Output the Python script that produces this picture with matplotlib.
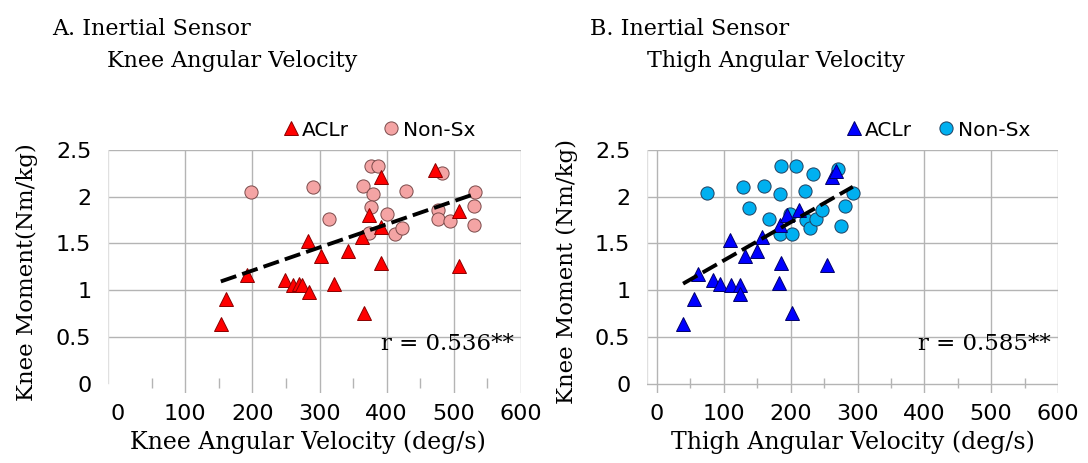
import matplotlib
matplotlib.use("Agg")
import matplotlib.pyplot as plt
import numpy as np

# ---- data ------------------------------------------------------------------
# Panel A: knee angular velocity (deg/s) vs knee moment (Nm/kg)
knee_aclr_x = [153, 160, 192, 248, 260, 269, 274, 284, 283, 302, 322, 342,
               363, 366, 373, 392, 392, 392, 472, 508, 508]
knee_aclr_y = [0.64, 0.91, 1.16, 1.11, 1.06, 1.07, 1.06, 0.98, 1.53, 1.37, 1.07, 1.42,
               1.57, 0.76, 1.80, 2.21, 1.68, 1.29, 2.29, 1.85, 1.26]
knee_nonsx_x = [198, 290, 314, 365, 376, 387, 380, 377, 373, 400, 412, 423,
                429, 482, 477, 477, 495, 532, 530, 530]
knee_nonsx_y = [2.05, 2.10, 1.76, 2.11, 2.33, 2.33, 2.03, 1.89, 1.61, 1.81, 1.60, 1.67,
                2.06, 2.25, 1.86, 1.76, 1.74, 2.05, 1.90, 1.70]
knee_r = "r = 0.536**"

# Panel B: thigh angular velocity (deg/s) vs knee moment (Nm/kg)
thigh_aclr_x = [39, 56, 61, 84, 94, 110, 109, 124, 124, 132, 150, 157,
                183, 185, 184, 202, 213, 254, 262, 268, 195]
thigh_aclr_y = [0.64, 0.91, 1.17, 1.11, 1.07, 1.06, 1.54, 1.06, 0.96, 1.37, 1.42, 1.57,
                1.08, 1.29, 1.70, 0.76, 1.86, 1.27, 2.21, 2.28, 1.80]
thigh_nonsx_x = [75, 129, 138, 160, 168, 184, 186, 208, 184, 199, 202, 222,
                 234, 223, 229, 238, 247, 271, 281, 275, 293]
thigh_nonsx_y = [2.04, 2.10, 1.88, 2.11, 1.76, 2.03, 2.33, 2.33, 1.60, 1.81, 1.60, 2.06,
                 2.24, 1.75, 1.67, 1.76, 1.86, 2.30, 1.90, 1.69, 2.04]
thigh_r = "r = 0.585**"

x_ticks = [0, 100, 200, 300, 400, 500, 600]
x_minor = [50, 150, 250, 350, 450, 550]
y_ticks = [0, 0.5, 1, 1.5, 2, 2.5]
y_tick_labels = ["0", "0.5", "1", "1.5", "2", "2.5"]

SERIF = "DejaVu Serif"
SANS = "DejaVu Sans"
GRID = "#b4b4b4"
W, H = 1088, 463


def draw_panel(ax, aclr_x, aclr_y, non_x, non_y, tri_color, tri_edge,
               circ_color, circ_edge, r_text, y_axis_line):
    ax.set_xlim(-15, 600)
    ax.set_ylim(-0.1, 2.5)
    for s in ax.spines.values():
        s.set_visible(False)
    for x in x_ticks[1:]:
        ax.axvline(x, color=GRID, lw=1, zorder=0)
    for y in y_ticks[1:]:
        ax.axhline(y, color=GRID, lw=1, zorder=0)
    ax.axvline(-15, ymin=0.04, color="#e0e0e0", lw=1, zorder=0)
    if y_axis_line:
        ax.axhline(0, color=GRID, lw=1, zorder=0)
        ax.axvline(0, color=GRID, lw=1, zorder=0)
    ax.vlines(x_minor, -0.05, 0.06, color=GRID, lw=1, zorder=0)

    ax.set_xticks(x_ticks)
    ax.set_yticks(y_ticks)
    ax.set_yticklabels(y_tick_labels)
    ax.tick_params(length=0, labelsize=16, pad=12)
    ax.tick_params(axis="x", pad=8)
    for lab in ax.get_xticklabels() + ax.get_yticklabels():
        lab.set_fontfamily(SANS)

    ax.plot(non_x, non_y, "o", ms=9.5, color=circ_color, mec=circ_edge,
            mew=0.7, label="Non-Sx", zorder=3)
    ax.plot(aclr_x, aclr_y, "^", ms=10.5, color=tri_color, mec=tri_edge,
            mew=0.7, label="ACLr", zorder=4)

    all_x = np.array(aclr_x + non_x, dtype=float)
    all_y = np.array(aclr_y + non_y, dtype=float)
    slope, icpt = np.polyfit(all_x, all_y, 1)
    xs = np.array([all_x.min(), all_x.max()])
    ax.plot(xs, slope * xs + icpt, color="black", lw=2.8, dashes=(4.2, 1.6),
            zorder=5)

    ax.text(0.66, 0.2, r_text, transform=ax.transAxes, family=SERIF,
            fontsize=16.5, va="center", ha="left", zorder=6)

    h, l = ax.get_legend_handles_labels()
    return [h[1], h[0]], [l[1], l[0]]


fig = plt.figure(figsize=(W / 100, H / 100), dpi=100)

ax_a = fig.add_axes([108 / W, 1 - 393 / H, 413 / W, 243 / H])
ax_b = fig.add_axes([647 / W, 1 - 393 / H, 411 / W, 243 / H])

h, l = draw_panel(ax_a, knee_aclr_x, knee_aclr_y, knee_nonsx_x, knee_nonsx_y,
                  "#ff0000", "#8a0000", "#f4a4a4", "#7a4a4a", knee_r, False)
fig.legend(h, l, loc="center", bbox_to_anchor=(378 / W, 1 - 130 / H),
           ncol=2, frameon=False, prop={"family": SANS, "size": 14.5},
           handletextpad=0.05, columnspacing=1.6, handlelength=1.0)

h, l = draw_panel(ax_b, thigh_aclr_x, thigh_aclr_y, thigh_nonsx_x, thigh_nonsx_y,
                  "#0000ff", "#00006a", "#00b0f0", "#1f3f5f", thigh_r, True)
fig.legend(h, l, loc="center", bbox_to_anchor=(937 / W, 1 - 130 / H),
           ncol=2, frameon=False, prop={"family": SANS, "size": 14.5},
           handletextpad=0.05, columnspacing=1.2, handlelength=1.0)

# titles
fig.text(52 / W, 1 - 35 / H, "A. Inertial Sensor", family=SERIF, fontsize=16,
         va="baseline")
fig.text(107 / W, 1 - 67 / H, "Knee Angular Velocity", family=SERIF,
         fontsize=16, va="baseline")
fig.text(590 / W, 1 - 35 / H, "B. Inertial Sensor", family=SERIF, fontsize=16,
         va="baseline")
fig.text(647 / W, 1 - 67 / H, "Thigh Angular Velocity", family=SERIF,
         fontsize=16, va="baseline")

# axis labels
fig.text(27 / W, 1 - 272 / H, "Knee Moment(Nm/kg)", family=SERIF, fontsize=16.5,
         rotation=90, ha="center", va="center")
fig.text(567 / W, 1 - 272 / H, "Knee Moment (Nm/kg)", family=SERIF,
         fontsize=16.5, rotation=90, ha="center", va="center")
fig.text(308 / W, 1 - 449 / H, "Knee Angular Velocity (deg/s)", family=SERIF,
         fontsize=17, ha="center", va="baseline")
fig.text(853 / W, 1 - 449 / H, "Thigh Angular Velocity (deg/s)", family=SERIF,
         fontsize=17, ha="center", va="baseline")

fig.savefig("out.png", dpi=100)
